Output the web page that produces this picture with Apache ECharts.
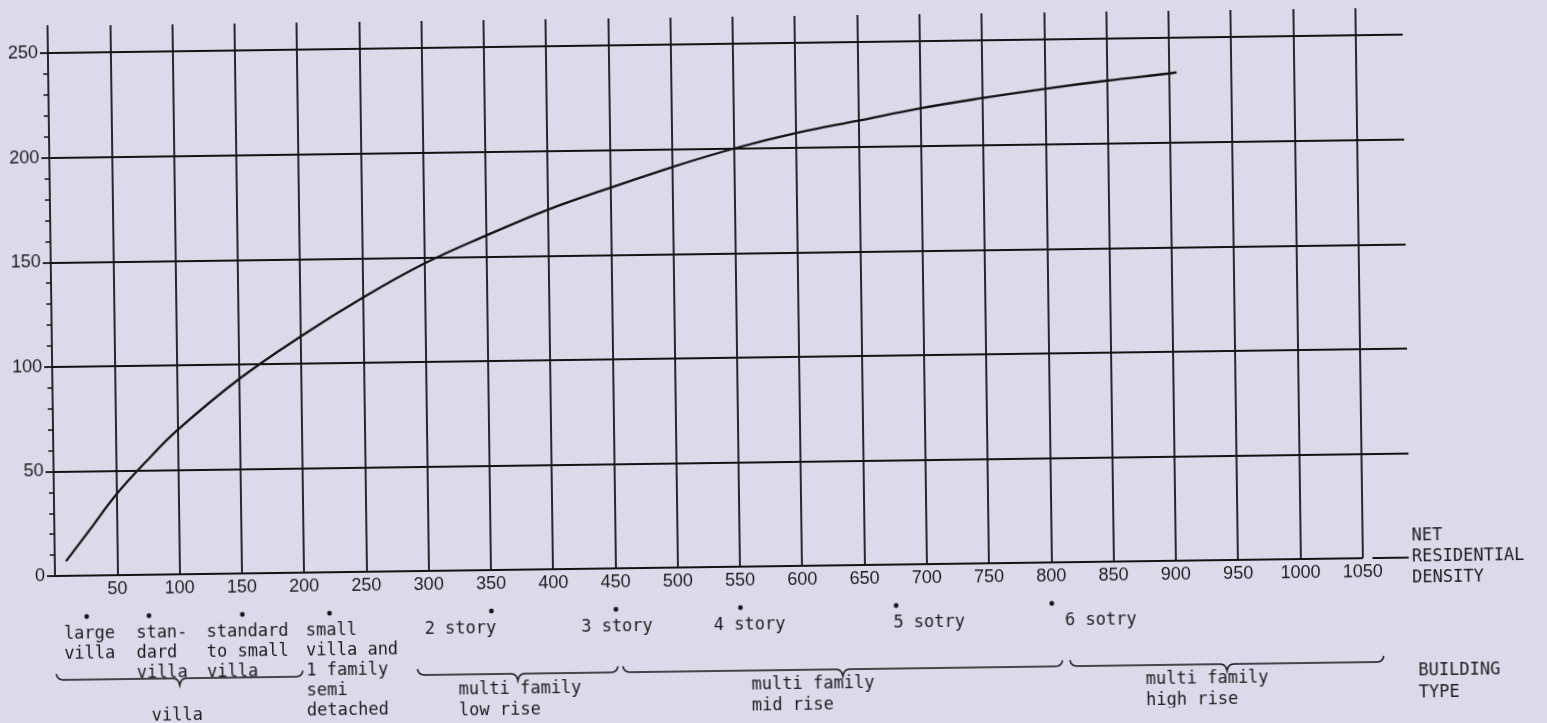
<!DOCTYPE html>
<html>
<head>
<meta charset="utf-8">
<title>Net residential density by building type</title>
<script src="https://cdn.jsdelivr.net/npm/echarts@6/dist/echarts.min.js"></script>
<style>
  html, body { margin: 0; padding: 0; background: #dcd9eb; overflow: hidden; }
  /* the sheet sits slightly skewed on the page, pivoting about the axis origin */
  #chart { width: 1547px; height: 723px; transform: rotate(-0.78deg); transform-origin: 55px 576px; }
</style>
</head>
<body>
<div id="chart"></div>
<script>
// ---- curve: value reached at each net residential density ----
const densityX = [9, 28, 50, 75, 100, 150, 200, 250, 300, 350, 400, 450, 500, 550, 600, 650, 700, 750, 800, 850, 900, 906];
const curveY   = [7, 21.5, 38.5, 54.5, 69, 93, 113, 131, 147, 160, 172, 182, 191.5, 200, 207, 212.5, 218, 222.5, 226.5, 230, 233, 233.5];

// ---- axis ticks ----
const xTicks = [50, 100, 150, 200, 250, 300, 350, 400, 450, 500, 550, 600, 650, 700, 750, 800, 850, 900, 950, 1000, 1050];
const yTicks = [0, 50, 100, 150, 200, 250];
const yMinorTicks = [10, 20, 30, 40, 60, 70, 80, 90, 110, 120, 130, 140, 160, 170, 180, 190, 210, 220, 230, 240];

// ---- building types marked along the density scale ----
const typeNames = ['large\nvilla', 'stan-\ndard\nvilla', 'standard\nto small\nvilla', 'small\nvilla and\n1 family\nsemi\ndetached',
                   '2 story', '3 story', '4 story', '5 sotry', '6 sotry'];
const typeDensity = [25, 75, 150, 220, 350, 450, 550, 675, 800];

// ---- building type groups (density ranges) ----
const groupNames = ['villa', 'multi family\nlow rise', 'multi family\nmid rise', 'multi family\nhigh rise'];
const groupFrom = [0, 290, 455, 814];
const groupTo   = [198, 451, 808, 1066];

// ---- label placement (pixels, relative to the marker) ----
const typeLabelShift = [-23, -13, -36, -24, -67, -35, -27, -3, 13];
const groupLabelShift = [[-3, 142], [2, 120], [-30, 119], [-20, 119]];

const ink = '#141414';
const textInk = '#1c1c1c';
const mono = '"DejaVu Sans Mono", "Liberation Mono", monospace';
const sans = '"Liberation Sans", Arial, sans-serif';
const monoSize = 17;

const measureCtx = document.createElement('canvas').getContext('2d');
measureCtx.font = monoSize + 'px ' + mono;
function blockWidth(text) {
  return Math.max.apply(null, text.split('\n').map(l => measureCtx.measureText(l).width));
}

function quad(p0, c, p1, n) {
  const pts = [];
  for (let k = 1; k <= n; k++) {
    const t = k / n, u = 1 - t;
    pts.push([u * u * p0[0] + 2 * u * t * c[0] + t * t * p1[0],
              u * u * p0[1] + 2 * u * t * c[1] + t * t * p1[1]]);
  }
  return pts;
}

// curly brace lying on its back: hooks up at both ends, cusp down in the middle
function bracePoints(xa, xb, y) {
  const xm = (xa + xb) / 2;
  let pts = [[xa, y - 6]];
  pts = pts.concat(quad([xa, y - 6], [xa + 1, y], [xa + 7, y], 6));
  pts.push([xm - 7, y]);
  pts = pts.concat(quad([xm - 7, y], [xm - 1, y], [xm, y + 7], 6));
  pts = pts.concat(quad([xm, y + 7], [xm + 1, y], [xm + 7, y], 6));
  pts.push([xb - 7, y]);
  pts = pts.concat(quad([xb - 7, y], [xb - 1, y], [xb, y - 6], 6));
  return pts;
}

const xMax = 1088;
const lastTick = xTicks[xTicks.length - 1];

const chart = echarts.init(document.getElementById('chart'), null, { renderer: 'canvas' });

const option = {
  backgroundColor: '#dcd9eb',
  animation: false,
  grid: { left: 55, right: 137, top: 26, bottom: 147, containLabel: false, outerBoundsMode: 'none' },
  xAxis: {
    type: 'value', min: 0, max: xMax,
    axisLine: { show: false }, axisTick: { show: false }, splitLine: { show: false },
    axisLabel: { customValues: xTicks, margin: 5, fontSize: 18, fontFamily: sans, color: textInk,
                 hideOverlap: false, formatter: v => String(v) },
    name: 'NET\nRESIDENTIAL\nDENSITY', nameLocation: 'end', nameGap: 2, nameMoveOverlap: false,
    nameTextStyle: { fontFamily: mono, fontSize: monoSize, lineHeight: 21, color: textInk,
                     align: 'left', verticalAlign: 'middle', padding: [0, 0, 32, 0] }
  },
  yAxis: [
    {
      type: 'value', min: 0, max: 263,
      axisLine: { show: true, lineStyle: { color: ink, width: 1.8 } },
      axisTick: { show: true, customValues: yTicks, length: 8, lineStyle: { color: ink, width: 1.8 } },
      axisLabel: { customValues: yTicks, margin: 10, fontSize: 18, fontFamily: sans, color: textInk },
      splitLine: { show: false }
    },
    {
      type: 'value', min: 0, max: 263, position: 'left', offset: 0,
      axisLine: { show: false },
      axisTick: { show: true, customValues: yMinorTicks, length: 5, lineStyle: { color: ink, width: 1.5 } },
      axisLabel: { show: false }, splitLine: { show: false }
    }
  ],
  series: [
    {
      name: 'curve', type: 'line',
      data: densityX.map((x, i) => [x, curveY[i]]),
      smooth: 0.4, symbol: 'none', z: 3,
      lineStyle: { color: ink, width: 2.3 },
      markLine: {
        silent: true, symbol: ['none', 'none'], label: { show: false },
        lineStyle: { color: ink, width: 1.8, type: 'solid' },
        emphasis: { disabled: true },
        data: [].concat(
          xTicks.map(v => ({ xAxis: v })),
          yTicks.filter(v => v > 0).map(v => ({ yAxis: v })),
          [[{ coord: [0, 0] }, { coord: [lastTick, 0] }],
           [{ coord: [1058, 0] }, { coord: [1087, 0] }]]
        )
      }
    },
    {
      name: 'building types', type: 'custom', clip: false, silent: true,
      data: typeDensity.map(d => [d, 0]),
      renderItem: function (params, api) {
        const i = params.dataIndex;
        const p = api.coord([api.value(0), 0]);
        return {
          type: 'group',
          children: [
            { type: 'circle', shape: { cx: p[0], cy: p[1] + 41, r: 2.4 }, style: { fill: ink } },
            { type: 'text', x: p[0] + typeLabelShift[i], y: p[1] + 49,
              style: { text: typeNames[i], fill: textInk, fontSize: monoSize, fontFamily: mono,
                       lineHeight: 20, align: 'left', verticalAlign: 'top' } }
          ]
        };
      }
    },
    {
      name: 'building groups', type: 'custom', clip: false, silent: true,
      data: groupFrom.map((f, i) => [f, groupTo[i]]),
      renderItem: function (params, api) {
        const i = params.dataIndex;
        const a = api.coord([api.value(0), 0]);
        const b = api.coord([api.value(1), 0]);
        const y = a[1] + 104;
        const xm = (a[0] + b[0]) / 2;
        const w = blockWidth(groupNames[i]);
        return {
          type: 'group',
          children: [
            { type: 'polyline', shape: { points: bracePoints(a[0], b[0], y) },
              style: { stroke: ink, lineWidth: 1.5, fill: null } },
            { type: 'text', x: xm + groupLabelShift[i][0] - w / 2, y: a[1] + groupLabelShift[i][1] - 10.5,
              style: { text: groupNames[i], fill: textInk, fontSize: monoSize, fontFamily: mono,
                       lineHeight: 21, align: 'left', verticalAlign: 'top' } }
          ]
        };
      }
    },
    {
      name: 'building type caption', type: 'custom', clip: false, silent: true,
      data: [[xMax, 0]],
      renderItem: function (params, api) {
        const p = api.coord([api.value(0), 0]);
        return {
          type: 'text', x: p[0] + 7, y: p[1] + 103,
          style: { text: 'BUILDING\nTYPE', fill: textInk, fontSize: monoSize, fontFamily: mono,
                   lineHeight: 22, align: 'left', verticalAlign: 'top' }
        };
      }
    }
  ]
};

chart.setOption(option);
</script>
</body>
</html>
